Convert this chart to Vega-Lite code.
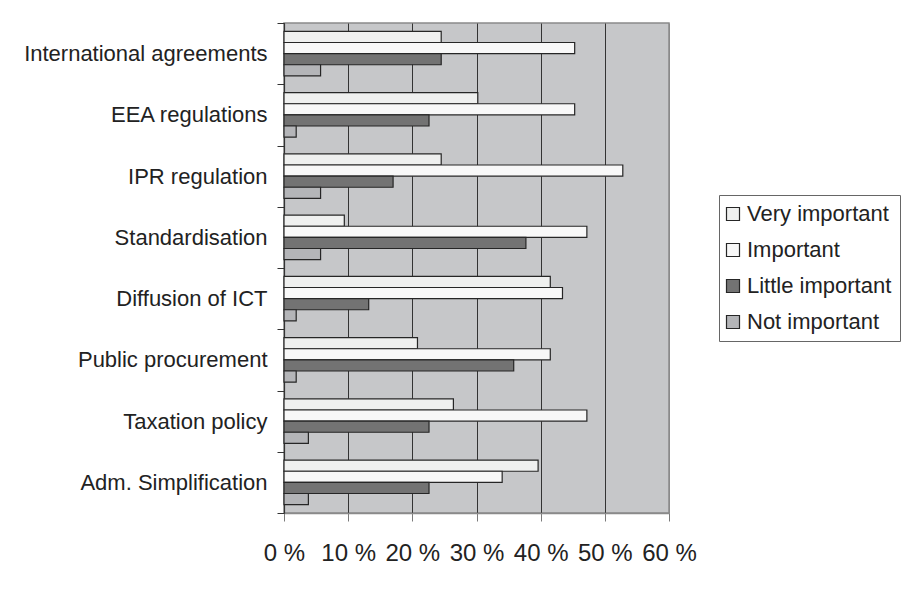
{
  "$schema": "https://vega.github.io/schema/vega-lite/v6.json",
  "width": 385,
  "height": 490,
  "autosize": {"type": "none"},
  "padding": {"left": 284, "top": 23, "right": 250, "bottom": 103},
  "background": "#ffffff",
  "config": {
    "font": "Liberation Sans",
    "view": {"fill": "#c6c7c9", "stroke": "#8a8a8a", "strokeWidth": 1.5}
  },
  "data": {
    "values": [
      {"area": "International agreements", "importance": "Very important", "share": 24.5},
      {"area": "International agreements", "importance": "Important", "share": 45.3},
      {"area": "International agreements", "importance": "Little important", "share": 24.5},
      {"area": "International agreements", "importance": "Not important", "share": 5.7},
      {"area": "EEA regulations", "importance": "Very important", "share": 30.2},
      {"area": "EEA regulations", "importance": "Important", "share": 45.3},
      {"area": "EEA regulations", "importance": "Little important", "share": 22.6},
      {"area": "EEA regulations", "importance": "Not important", "share": 1.9},
      {"area": "IPR regulation", "importance": "Very important", "share": 24.5},
      {"area": "IPR regulation", "importance": "Important", "share": 52.8},
      {"area": "IPR regulation", "importance": "Little important", "share": 17.0},
      {"area": "IPR regulation", "importance": "Not important", "share": 5.7},
      {"area": "Standardisation", "importance": "Very important", "share": 9.4},
      {"area": "Standardisation", "importance": "Important", "share": 47.2},
      {"area": "Standardisation", "importance": "Little important", "share": 37.7},
      {"area": "Standardisation", "importance": "Not important", "share": 5.7},
      {"area": "Diffusion of ICT", "importance": "Very important", "share": 41.5},
      {"area": "Diffusion of ICT", "importance": "Important", "share": 43.4},
      {"area": "Diffusion of ICT", "importance": "Little important", "share": 13.2},
      {"area": "Diffusion of ICT", "importance": "Not important", "share": 1.9},
      {"area": "Public procurement", "importance": "Very important", "share": 20.8},
      {"area": "Public procurement", "importance": "Important", "share": 41.5},
      {"area": "Public procurement", "importance": "Little important", "share": 35.8},
      {"area": "Public procurement", "importance": "Not important", "share": 1.9},
      {"area": "Taxation policy", "importance": "Very important", "share": 26.4},
      {"area": "Taxation policy", "importance": "Important", "share": 47.2},
      {"area": "Taxation policy", "importance": "Little important", "share": 22.6},
      {"area": "Taxation policy", "importance": "Not important", "share": 3.8},
      {"area": "Adm. Simplification", "importance": "Very important", "share": 39.6},
      {"area": "Adm. Simplification", "importance": "Important", "share": 34.0},
      {"area": "Adm. Simplification", "importance": "Little important", "share": 22.6},
      {"area": "Adm. Simplification", "importance": "Not important", "share": 3.8}
    ]
  },
  "mark": {"type": "bar", "stroke": "#262626", "strokeWidth": 1.2},
  "encoding": {
    "y": {
      "field": "area",
      "type": "nominal",
      "sort": null,
      "scale": {"paddingInner": 0, "paddingOuter": 0},
      "axis": {
        "title": null,
        "tickBand": "extent",
        "domainColor": "#333333",
        "domainWidth": 1.2,
        "tickColor": "#333333",
        "tickSize": 7,
        "labelFontSize": 22,
        "labelColor": "#222222",
        "labelPadding": 10,
        "labelLimit": 300,
        "grid": false
      }
    },
    "yOffset": {
      "field": "importance",
      "type": "nominal",
      "sort": ["Very important", "Important", "Little important", "Not important"],
      "scale": {"paddingInner": 0, "paddingOuter": 0.75}
    },
    "x": {
      "field": "share",
      "type": "quantitative",
      "scale": {"domain": [0, 60], "nice": false},
      "axis": {
        "title": null,
        "values": [0, 10, 20, 30, 40, 50, 60],
        "labelExpr": "datum.value + ' %'",
        "labelFontSize": 24,
        "labelColor": "#222222",
        "labelPadding": 20,
        "labelFlush": false,
        "labelOverlap": false,
        "tickSize": 8,
        "tickColor": "#7a7a7a",
        "domainColor": "#8a8a8a",
        "domainWidth": 1.5,
        "grid": true,
        "gridColor": {"condition": {"test": "datum.value == 60", "value": "#8a8a8a"}, "value": "#333333"},
        "gridWidth": 1,
        "gridOpacity": 1
      }
    },
    "color": {
      "field": "importance",
      "type": "nominal",
      "sort": ["Very important", "Important", "Little important", "Not important"],
      "scale": {
        "domain": ["Very important", "Important", "Little important", "Not important"],
        "range": ["#eff0ef", "#f8f8f8", "#737373", "#b4b5b8"]
      },
      "legend": {
        "title": null,
        "orient": "none",
        "legendX": 435,
        "legendY": 172,
        "fillColor": "#ffffff",
        "strokeColor": "#666666",
        "padding": 8,
        "labelFontSize": 22,
        "labelColor": "#222222",
        "labelOffset": 3,
        "labelLimit": 300,
        "rowPadding": 14,
        "symbolOffset": -5,
        "symbolType": "square",
        "symbolSize": 169,
        "symbolStrokeColor": "#262626",
        "symbolStrokeWidth": 1.2,
        "symbolOpacity": 1
      }
    }
  }
}
